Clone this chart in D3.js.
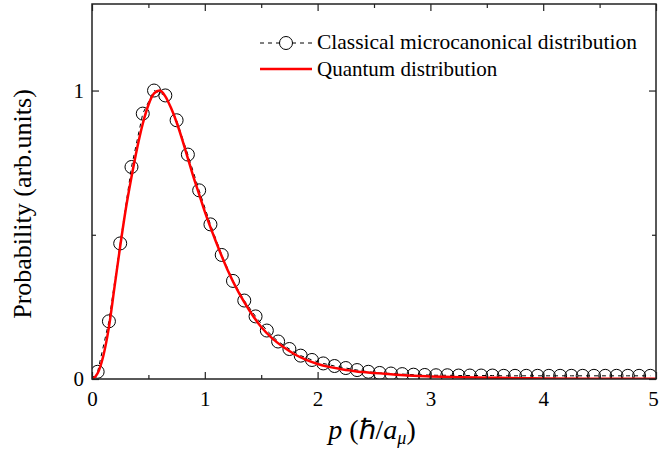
<!DOCTYPE html>
<html>
<head>
<meta charset="utf-8">
<script src="https://cdn.jsdelivr.net/npm/d3@7"></script>
<style>
  body { margin: 0; background: #fff; }
  text { font-family: "Liberation Serif", "Times New Roman", serif; fill: #000; }
</style>
</head>
<body>
<div id="chart"></div>
<script>
// Classical microcanonical distribution (open circles)
const classicalP = [0.05, 0.15, 0.25, 0.35, 0.45, 0.55, 0.65, 0.75, 0.85, 0.95,
  1.05, 1.15, 1.25, 1.35, 1.45, 1.55, 1.65, 1.75, 1.85, 1.95,
  2.05, 2.15, 2.25, 2.35, 2.45, 2.55, 2.65, 2.75, 2.85, 2.95,
  3.05, 3.15, 3.25, 3.35, 3.45, 3.55, 3.65, 3.75, 3.85, 3.95,
  4.05, 4.15, 4.25, 4.35, 4.45, 4.55, 4.65, 4.75, 4.85, 4.95];
const classicalProb = [0.025, 0.20, 0.47, 0.735, 0.92, 1.0, 0.983, 0.897, 0.778, 0.654,
  0.536, 0.43, 0.34, 0.272, 0.217, 0.168, 0.13, 0.104, 0.081, 0.066,
  0.054, 0.045, 0.038, 0.031, 0.025, 0.021, 0.019, 0.017, 0.015, 0.014,
  0.013, 0.013, 0.012, 0.012, 0.012, 0.012, 0.011, 0.011, 0.011, 0.011,
  0.011, 0.011, 0.011, 0.011, 0.011, 0.011, 0.011, 0.011, 0.011, 0.011];

// Quantum distribution (red curve)
const quantumP = [0, 0.05, 0.1, 0.15, 0.2, 0.25, 0.3, 0.35, 0.4, 0.45,
  0.5, 0.55, 0.6, 0.65, 0.7, 0.75, 0.8, 0.85, 0.9, 0.95,
  1.0, 1.1, 1.2, 1.3, 1.4, 1.5, 1.6, 1.7, 1.8, 1.9,
  2.0, 2.1, 2.2, 2.3, 2.4, 2.5, 2.6, 2.7, 2.8, 2.9,
  3.0, 3.2, 3.4, 3.6, 3.8, 4.0, 4.5, 5.0];
const quantumProb = [0, 0.02, 0.08, 0.18, 0.32, 0.46, 0.59, 0.70, 0.80, 0.885,
  0.95, 0.99, 1.0, 0.98, 0.94, 0.89, 0.83, 0.765, 0.70, 0.64,
  0.58, 0.475, 0.38, 0.30, 0.235, 0.18, 0.14, 0.11, 0.085, 0.066,
  0.052, 0.042, 0.035, 0.029, 0.024, 0.021, 0.018, 0.015, 0.012, 0.010,
  0.009, 0.007, 0.005, 0.004, 0.003, 0.002, 0.001, 0.0005];

const xMajor = [0, 1, 2, 3, 4, 5];
const xMinor = [0.5, 1.5, 2.5, 3.5, 4.5];
const yMajor = [0, 1];
const yMinor = [0.5];

const width = 659, height = 452;
const margin = {top: 4, right: 3, bottom: 73, left: 92};

const svg = d3.select('#chart')
  .append('svg')
  .attr('width', width)
  .attr('height', height);

const x = d3.scaleLinear().domain([0, 5]).range([margin.left, width - margin.right]);
const y = d3.scaleLinear().domain([0, 1.3]).range([height - margin.bottom, margin.top]);

svg.append('clipPath').attr('id', 'plot-clip')
  .append('rect')
  .attr('x', x(0)).attr('y', y(1.3))
  .attr('width', x(5) - x(0)).attr('height', y(0) - y(1.3));

const plot = svg.append('g').attr('clip-path', 'url(#plot-clip)');

const classical = classicalP.map((p, i) => ({p, v: classicalProb[i]}));
const quantum = quantumP.map((p, i) => ({p, v: quantumProb[i]}));

// dashed line through the circles
plot.append('path')
  .datum(classical)
  .attr('fill', 'none')
  .attr('stroke', '#000')
  .attr('stroke-width', 1)
  .attr('stroke-dasharray', '4,4')
  .attr('d', d3.line().x(d => x(d.p)).y(d => y(d.v)));

plot.selectAll('circle.cl')
  .data(classical)
  .enter()
  .append('circle')
  .attr('class', 'cl')
  .attr('cx', d => x(d.p))
  .attr('cy', d => y(d.v))
  .attr('r', 6.5)
  .attr('fill', 'none')
  .attr('stroke', '#000')
  .attr('stroke-width', 1);

plot.append('path')
  .datum(quantum)
  .attr('fill', 'none')
  .attr('stroke', '#ff0000')
  .attr('stroke-width', 2.5)
  .attr('d', d3.line().curve(d3.curveMonotoneX).x(d => x(d.p)).y(d => y(d.v)));

// axes: inward ticks, mirrored on top and right
const axisColor = '#222';
function styleAxis(g) {
  g.select('.domain').remove();
  g.selectAll('line').attr('stroke', axisColor).attr('stroke-width', 1.2);
}

const xBottom = svg.append('g').attr('transform', `translate(0,${y(0)})`)
  .call(d3.axisBottom(x).tickValues(xMajor).tickSizeInner(-7).tickSizeOuter(0).tickPadding(12).tickFormat(d3.format('d')));
xBottom.call(styleAxis);
xBottom.selectAll('text').attr('font-size', 21).attr('font-family', 'Liberation Serif');
xBottom.selectAll('text').filter(d => d === 5).attr('dx', -3);
svg.append('g').attr('transform', `translate(0,${y(0)})`)
  .call(d3.axisBottom(x).tickValues(xMinor).tickSize(-4).tickFormat(''))
  .call(styleAxis);

svg.append('g').attr('transform', `translate(0,${y(1.3)})`)
  .call(d3.axisTop(x).tickValues(xMajor).tickSize(-7).tickFormat(''))
  .call(styleAxis);
svg.append('g').attr('transform', `translate(0,${y(1.3)})`)
  .call(d3.axisTop(x).tickValues(xMinor).tickSize(-4).tickFormat(''))
  .call(styleAxis);

const yLeft = svg.append('g').attr('transform', `translate(${x(0)},0)`)
  .call(d3.axisLeft(y).tickValues(yMajor).tickSizeInner(-7).tickSizeOuter(0).tickPadding(8).tickFormat(d3.format('d')));
yLeft.call(styleAxis);
yLeft.selectAll('text').attr('font-size', 21).attr('font-family', 'Liberation Serif');
svg.append('g').attr('transform', `translate(${x(0)},0)`)
  .call(d3.axisLeft(y).tickValues(yMinor).tickSize(-4).tickFormat(''))
  .call(styleAxis);

svg.append('g').attr('transform', `translate(${x(5)},0)`)
  .call(d3.axisRight(y).tickValues(yMajor).tickSize(-7).tickFormat(''))
  .call(styleAxis);
svg.append('g').attr('transform', `translate(${x(5)},0)`)
  .call(d3.axisRight(y).tickValues(yMinor).tickSize(-4).tickFormat(''))
  .call(styleAxis);

// frame
svg.append('rect')
  .attr('x', x(0)).attr('y', y(1.3))
  .attr('width', x(5) - x(0)).attr('height', y(0) - y(1.3))
  .attr('fill', 'none')
  .attr('stroke', axisColor)
  .attr('stroke-width', 1.5);

// axis titles
svg.append('text')
  .attr('transform', 'translate(31,204) rotate(-90)')
  .attr('text-anchor', 'middle')
  .attr('font-size', 26)
  .text('Probability (arb.units)');

const xt = svg.append('text')
  .attr('x', 372)
  .attr('y', 439)
  .attr('text-anchor', 'middle')
  .attr('font-size', 28)
  .attr('font-family', 'DejaVu Serif');
xt.append('tspan').attr('font-style', 'italic').text('p');
xt.append('tspan').text(' (ℏ/');
xt.append('tspan').attr('font-style', 'italic').text('a');
xt.append('tspan').attr('font-style', 'italic').attr('font-size', 18).attr('dy', 5).text('μ');
xt.append('tspan').attr('dy', -5).text(')');

// legend
const lg = svg.append('g');
lg.append('line')
  .attr('x1', 260).attr('x2', 312).attr('y1', 43).attr('y2', 43)
  .attr('stroke', '#000').attr('stroke-width', 1).attr('stroke-dasharray', '4,4');
lg.append('circle')
  .attr('cx', 286).attr('cy', 43).attr('r', 6.5)
  .attr('fill', '#fff').attr('stroke', '#000').attr('stroke-width', 1);
lg.append('text').attr('x', 317).attr('y', 49).attr('font-size', 21)
  .attr('textLength', 320).attr('lengthAdjust', 'spacingAndGlyphs')
  .text('Classical microcanonical distribution');
lg.append('line')
  .attr('x1', 260).attr('x2', 312).attr('y1', 69).attr('y2', 69)
  .attr('stroke', '#ff0000').attr('stroke-width', 2.5);
lg.append('text').attr('x', 317).attr('y', 76).attr('font-size', 21)
  .text('Quantum distribution');
</script>
</body>
</html>
